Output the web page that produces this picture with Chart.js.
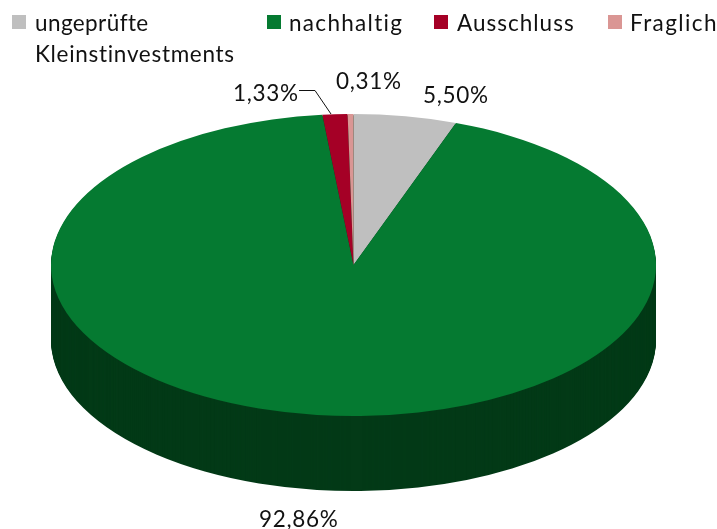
<!DOCTYPE html>
<html><head><meta charset="utf-8">
<style>html,body{margin:0;padding:0;background:#fff;overflow:hidden}canvas{display:block}</style>
<script src="https://cdn.jsdelivr.net/npm/chart.js@4"></script></head>
<body><canvas id="c" width="717" height="529"></canvas>
<script>
const categories = ["ungeprüfte Kleinstinvestments", "nachhaltig", "Ausschluss", "Fraglich"];
const legendLines = [["ungeprüfte", "Kleinstinvestments"], ["nachhaltig"], ["Ausschluss"], ["Fraglich"]];
const values = [5.50, 92.86, 1.33, 0.31];
const colors = ["#BFBFBF", "#057A31", "#A50026", "#DA9694"];
const sideColors = ["#033A17", "#033A17", "#033A17", "#033A17"];

const FONT = '22.5px Lato', SPACING = '0.7px', TEXT = '#111111';
const geo = {cx: 353.5, cy: 265, rx: 302.5, ry: 151, depth: 75};
const legendPos = [[12, 35], [267, 289], [434, 457], [608, 630]];
const legendSpacing = [[0.4, 0.7], [1.3], [1.0], [1.4]];
const labelPos = [[423, 103], [259, 527], [233, 101], [336, 89]];

function applyTilt(ctx, arc, dy) {
  const r = arc.outerRadius;
  ctx.translate(geo.cx, geo.cy + dy);
  ctx.scale(geo.rx / r, geo.ry / r);
  ctx.translate(-arc.x, -arc.y);
}
const tilt = {
  id: 'tilt',
  beforeDatasetsDraw(chart) {
    const ctx = chart.ctx, arcs = chart.getDatasetMeta(0).data;
    arcs.forEach((arc, i) => {
      const base = arc.options;
      arc.options = Object.assign({}, base, {backgroundColor: sideColors[i], borderWidth: 0});
      for (let dy = geo.depth; dy > 0; dy--) {
        ctx.save();
        applyTilt(ctx, arc, dy);
        arc.draw(ctx);
        ctx.restore();
      }
      arc.options = base;
    });
    ctx.save();
    applyTilt(ctx, arcs[0], 0);
  },
  afterDatasetsDraw(chart) {
    const ctx = chart.ctx;
    ctx.restore();
    ctx.save();
    ctx.font = FONT;
    ctx.fillStyle = TEXT;
    ctx.textBaseline = 'alphabetic';
    legendLines.forEach((lines, i) => {
      const [sx, tx] = legendPos[i];
      ctx.fillStyle = colors[i];
      ctx.fillRect(sx, 15, 14, 14);
      ctx.fillStyle = TEXT;
      lines.forEach((t, j) => {
        ctx.letterSpacing = legendSpacing[i][j] + 'px';
        ctx.fillText(t, tx, 31 + j * 31);
      });
    });
    ctx.letterSpacing = SPACING;
    values.forEach((v, i) => {
      ctx.fillText(v.toFixed(2).replace('.', ',') + '%', labelPos[i][0], labelPos[i][1]);
    });
    ctx.strokeStyle = '#111111';
    ctx.lineWidth = 1;
    ctx.beginPath();
    ctx.moveTo(299, 90.5);
    ctx.lineTo(315, 90.5);
    ctx.lineTo(331, 114);
    ctx.stroke();
    ctx.restore();
  }
};

new Chart(document.getElementById('c'), {
  type: 'pie',
  data: {labels: categories, datasets: [{data: values, backgroundColor: colors, borderWidth: 0}]},
  options: {
    responsive: false,
    animation: false,
    plugins: {legend: {display: false}, tooltip: {enabled: false}}
  },
  plugins: [tilt]
});
</script></body></html>
